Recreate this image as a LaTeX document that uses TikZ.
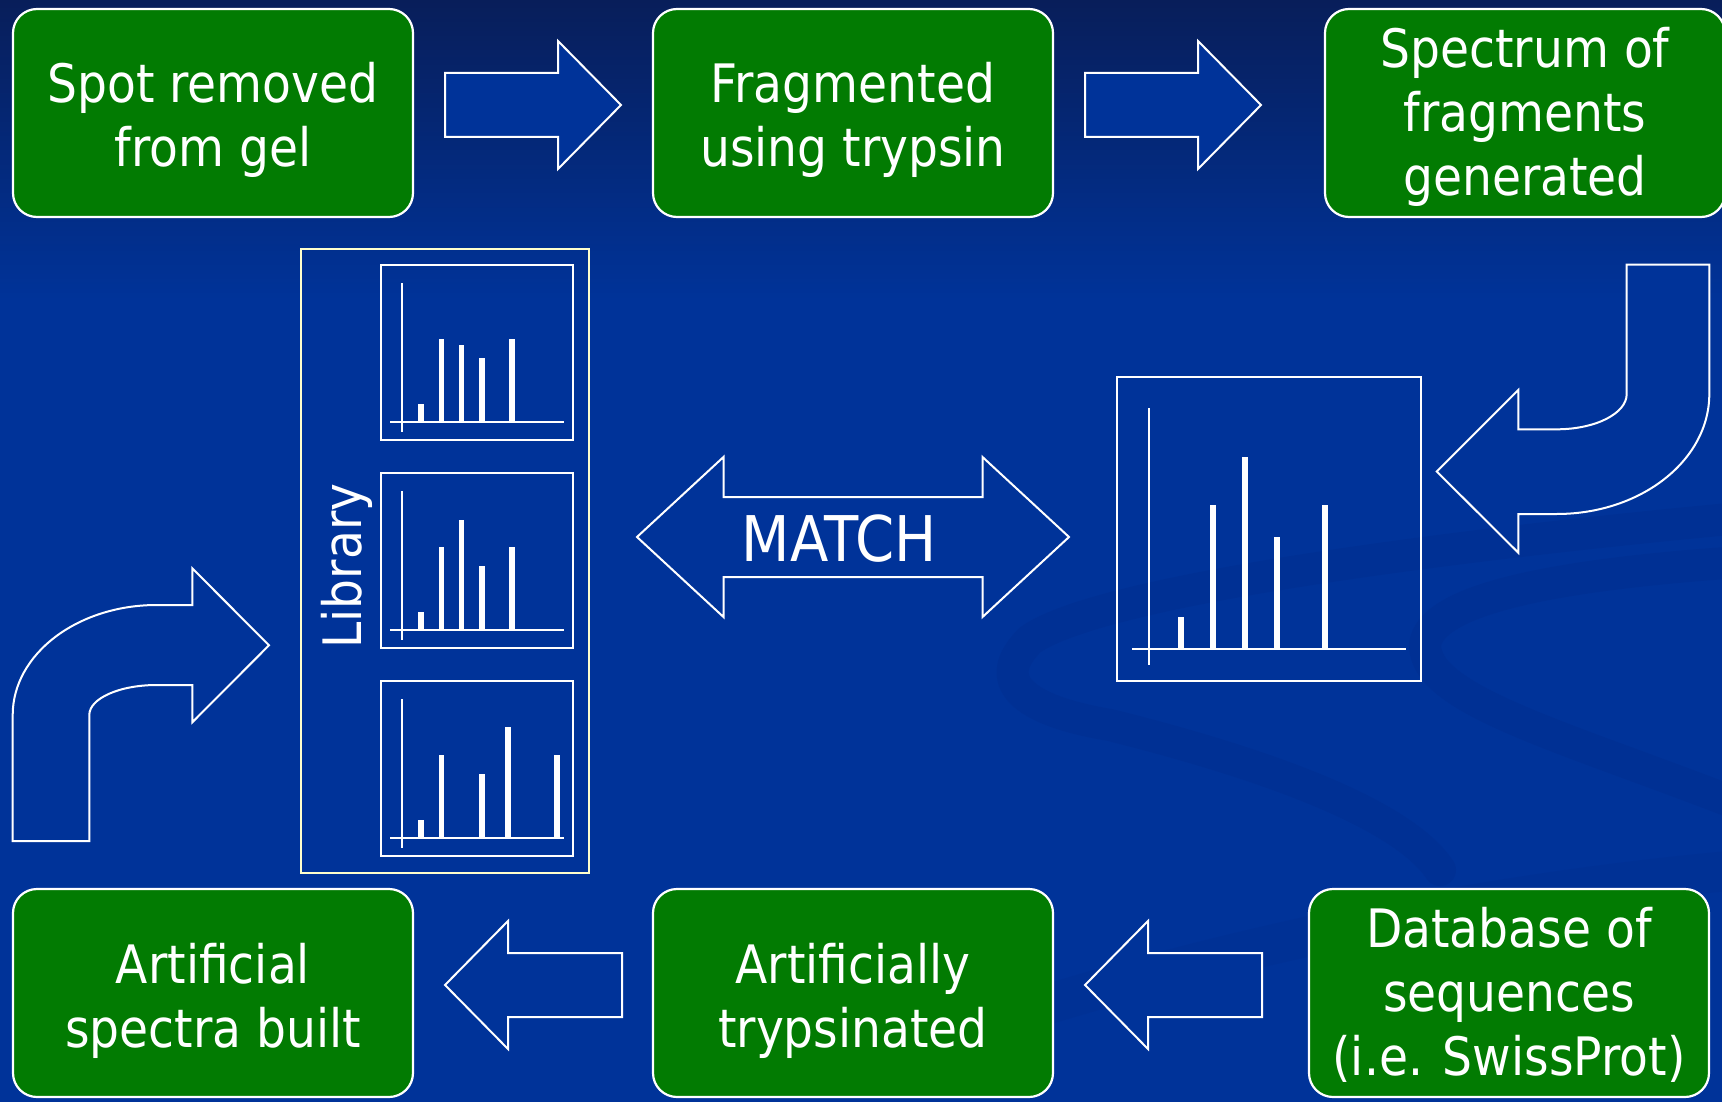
\documentclass[tikz,border=0pt]{standalone}
\usepackage{fontspec}
\setmainfont{DejaVu Sans}[FakeStretch=0.89]
\definecolor{bgblue}{RGB}{0,51,153}
\definecolor{topnavy}{RGB}{8,30,90}
\definecolor{swooshc}{RGB}{0,38,128}
\definecolor{boxgreen}{RGB}{2,123,2}
\definecolor{libcream}{RGB}{255,255,204}
\begin{document}
\begin{tikzpicture}[x=1pt,y=-1pt,
  gbox/.style={draw=white, line width=2.2pt, fill=boxgreen, rounded corners=24pt,
    minimum width=400pt, minimum height=208pt, inner sep=0pt},
  btext/.style={text=white, font=\fontsize{53}{64}\selectfont, anchor=base, inner sep=0pt},
  barrow/.style={draw=white, line width=2pt, fill=bgblue, line join=miter},
  cbox/.style={draw=white, line width=2.5pt, minimum width=192pt, minimum height=175pt, inner sep=0pt},
  chaxis/.style={draw=white, line width=2pt},
  swoosh/.style={draw=swooshc, line width=32pt, opacity=0.2, line cap=round}
]
\useasboundingbox (0,0) rectangle (1722,1102);
% background
\fill[bgblue] (0,0) rectangle (1722,1102);
\shade[top color=topnavy, bottom color=bgblue] (0,0) rectangle (1722,300);
\begin{scope}
\clip (0,0) rectangle (1722,1102);
\draw[swoosh] (1740,518) .. controls (1450,545) and (1100,590) .. (1030,640)
  .. controls (990,680) and (1020,710) .. (1110,725)
  .. controls (1250,760) and (1400,810) .. (1440,870);
\draw[swoosh] (1740,562) .. controls (1550,575) and (1430,600) .. (1425,645)
  .. controls (1425,700) and (1560,735) .. (1740,805);
\draw[swoosh, opacity=0.12, line width=40pt] (880,1060) .. controls (1100,980) and (1400,900) .. (1740,870);
\end{scope}

% top row boxes
\node[gbox] (b1) at (213,113) {};
\node[gbox] (b2) at (853,113) {};
\node[gbox] (b3) at (1525,113) {};
% bottom row boxes
\node[gbox] (b4) at (213,993) {};
\node[gbox] (b5) at (853,993) {};
\node[gbox] (b6) at (1509,993) {};

\node[btext] (t1) at (213,103) {\begin{tabular}[t]{@{}c@{}}Spot removed\\from gel\end{tabular}};
\node[btext] (t2) at (853,103) {\begin{tabular}[t]{@{}c@{}}Fragmented\\using trypsin\end{tabular}};
\node[btext] (t3) at (1525,68) {\begin{tabular}[t]{@{}c@{}}Spectrum of\\fragments\\generated\end{tabular}};
\node[btext] (t4) at (213,983) {\begin{tabular}[t]{@{}c@{}}Artificial\\spectra built\end{tabular}};
\node[btext] (t5) at (853,983) {\begin{tabular}[t]{@{}c@{}}Artificially\\trypsinated\end{tabular}};
\node[btext] (t6) at (1509,947) {\begin{tabular}[t]{@{}c@{}}Database of\\sequences\\(i.e. SwissProt)\end{tabular}};

% straight block arrows
\draw[barrow] (445,73) -- (558,73) -- (558,41) -- (621,105) -- (558,169) -- (558,137) -- (445,137) -- cycle;
\draw[barrow] (1085,73) -- (1198,73) -- (1198,41) -- (1261,105) -- (1198,169) -- (1198,137) -- (1085,137) -- cycle;
\draw[barrow] (1262,953) -- (1148,953) -- (1148,921) -- (1085,985) -- (1148,1049) -- (1148,1017) -- (1262,1017) -- cycle;
\draw[barrow] (622,953) -- (508,953) -- (508,921) -- (445,985) -- (508,1049) -- (508,1017) -- (622,1017) -- cycle;

% MATCH double arrow
\draw[barrow] (637,537) -- (723.5,457) -- (723.5,497) -- (982.5,497) -- (982.5,457) -- (1069,537)
  -- (982.5,617) -- (982.5,577) -- (723.5,577) -- (723.5,617) -- cycle;
\node[text=white, font=\fontsize{63}{70}\selectfont, anchor=base, inner sep=0pt] (match) at (839,561.5) {MATCH};

% curved arrow right side
\draw[barrow] (1709.3,264.7) -- (1626.7,264.7) -- (1626.7,394)
  .. controls (1626.7,413.5) and (1595.4,429.3) .. (1556.7,429.3)
  -- (1518.3,429.3) -- (1518.3,390) -- (1436.7,471.5) -- (1518.3,552.7) -- (1518.3,514) -- (1556.7,514)
  .. controls (1641,514) and (1709.3,460.3) .. (1709.3,394) -- cycle;

% curved arrow left side
\draw[barrow] (12.7,841) -- (12.7,715)
  .. controls (12.7,654.3) and (77.2,605) .. (156.7,605)
  -- (192.3,605) -- (192.3,568.3) -- (269,645.3) -- (192.3,722.3) -- (192.3,685) -- (156.7,685)
  .. controls (119.5,685) and (89.3,698.4) .. (89.3,715)
  -- (89.3,841) -- cycle;

% library
\node[draw=libcream, line width=2pt, minimum width=288pt, minimum height=624pt, inner sep=0pt] (lib) at (445,561) {};
\node[text=white, font=\fontsize{53}{64}\selectfont, anchor=base, rotate=90, inner sep=0pt] (libtxt) at (361,566) {Library};

\node[cbox] (c1) at (477,352.5) {};
\node[cbox] (c2) at (477,560.5) {};
\node[cbox] (c3) at (477,768.5) {};

\draw[chaxis] (402,283) -- (402,432);
\draw[chaxis] (390,422) -- (564,422);
\foreach \x/\t in {421/404, 441.5/339, 461.5/345, 482/358, 512/339}
  \fill[white] (\x-2.8,423) rectangle (\x+2.8,\t);
\draw[chaxis] (402,491) -- (402,640);
\draw[chaxis] (390,630) -- (564,630);
\foreach \x/\t in {421/611.5, 441.5/547, 461.5/519.5, 482/565.5, 512/547}
  \fill[white] (\x-2.8,631) rectangle (\x+2.8,\t);
\draw[chaxis] (402,699) -- (402,848);
\draw[chaxis] (390,838) -- (564,838);
\foreach \x/\t in {421/819.5, 441.5/754.5, 482/774, 508/727, 557/754.5}
  \fill[white] (\x-2.8,839) rectangle (\x+2.8,\t);

% big spectrum
\node[cbox, minimum width=304pt, minimum height=304pt] (spec) at (1269,529) {};
\draw[chaxis] (1149,408) -- (1149,665);
\draw[chaxis] (1132,649) -- (1406,649);
\foreach \x/\t in {1181/617, 1213/505, 1245/457, 1277/537, 1325/505}
  \fill[white] (\x-3,650) rectangle (\x+3,\t);
\end{tikzpicture}
\end{document}
